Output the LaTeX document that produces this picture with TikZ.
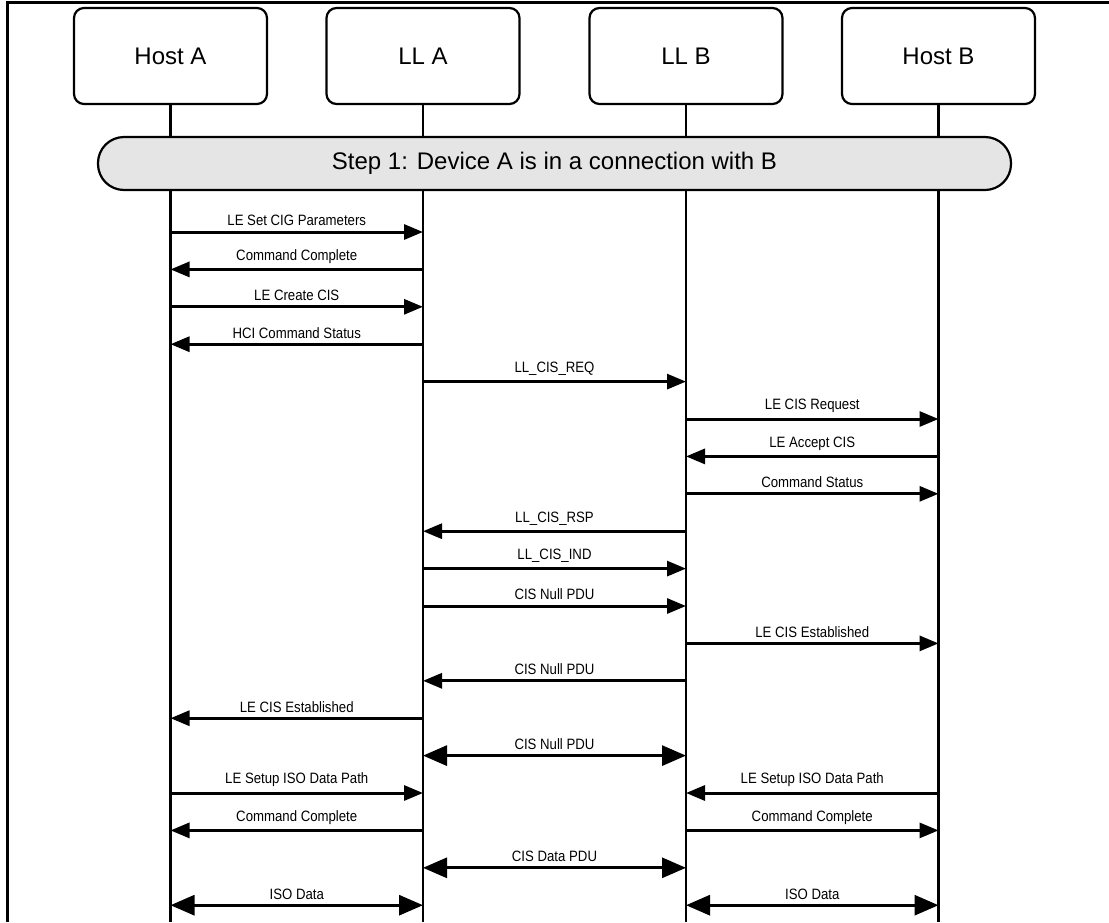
\documentclass[tikz,border=0pt]{standalone}
\usepackage{fontspec}
\setmainfont{Liberation Sans}
\newfontfamily\msgfont[FakeStretch=0.88]{Liberation Sans}
\usetikzlibrary{arrows.meta,positioning}
\tikzset{
  party/.style={draw,line width=2.2pt,rounded corners=10pt,minimum width=193pt,minimum height=96pt,font=\fontsize{24}{28}\selectfont},
  life/.style={line width=2.2pt},
  msg/.style={line width=3pt,-{Triangle[length=19pt,width=15pt]}},
  both/.style={line width=3pt,{Triangle[length=24pt,width=20pt]}-{Triangle[length=24pt,width=20pt]}},
  lbl/.style={inner sep=1.5pt,font=\msgfont\fontsize{15}{17}\selectfont}
}
\begin{document}
\begin{tikzpicture}[x=1pt,y=-1pt]
\useasboundingbox(0,0)rectangle(1109,922);
\draw[line width=2.8pt](7.5,922)--(7.5,2.5)--(1109,2.5);
\node[party](hostA)at(170.5,56){Host A};
\node[party](llA)at(423,56){LL A};
\node[party](llB)at(686,56){LL B};
\node[party](hostB)at(938.5,56){Host B};
\foreach \n in {hostA,llA,llB,hostB}
  \draw[life](\n.south)--(\n |- 0,922);
\node[draw,line width=2.2pt,fill=gray!20,rounded corners=26pt,minimum width=913pt,minimum height=53pt,
  font=\fontsize{24}{28}\selectfont](step)at(554.5,163.5){Step 1: Device A is in a connection with B};
\foreach \i/\a/\b/\s/\t in {
  1/hostA/llA/msg/LE Set CIG Parameters,
  2/llA/hostA/msg/Command Complete,
  3/hostA/llA/msg/LE Create CIS,
  4/llA/hostA/msg/HCI Command Status,
  5/llA/llB/msg/LL\_CIS\_REQ,
  6/llB/hostB/msg/LE CIS Request,
  7/hostB/llB/msg/LE Accept CIS,
  8/llB/hostB/msg/Command Status,
  9/llB/llA/msg/LL\_CIS\_RSP,
  10/llA/llB/msg/LL\_CIS\_IND,
  11/llA/llB/msg/CIS Null PDU,
  12/llB/hostB/msg/LE CIS Established,
  13/llB/llA/msg/CIS Null PDU,
  14/llA/hostA/msg/LE CIS Established,
  15/llA/llB/both/CIS Null PDU,
  16/hostA/llA/msg/LE Setup ISO Data Path,
  16/hostB/llB/msg/LE Setup ISO Data Path,
  17/llA/hostA/msg/Command Complete,
  17/llB/hostB/msg/Command Complete,
  18/llA/llB/both/CIS Data PDU,
  19/hostA/llA/both/ISO Data,
  19/llB/hostB/both/ISO Data}{
  \pgfmathsetmacro\y{232+37.4*(\i-1)}
  \draw[\s](\a |- 0,\y)--(\b |- 0,\y)node[midway,above=3pt,lbl]{\t};
}
\end{tikzpicture}
\end{document}
